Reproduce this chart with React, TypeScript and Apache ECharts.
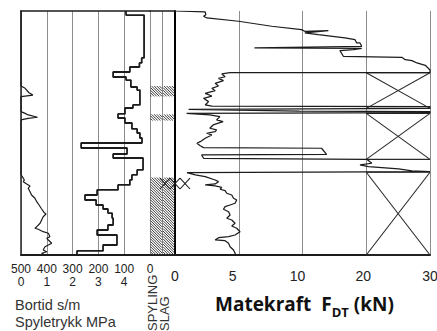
import React, { useEffect, useRef } from "react";
import * as echarts from "echarts";

// ---------- axes / ticks ----------
const DEPTH_MAX = 20; // m (depth axis, unlabeled)
const bortidMax = 500; // s/m
const bortidInterval = 100;
const spyleMax = 5; // MPa
const spyleTickLabels = ["0", "1", "2", "3", "4"];
const forceTicks = [0, 5, 10, 20, 30]; // kN (non-linear axis)

// ---------- Bortid (s/m), step curve: value between consecutive depths ----------
const bortidDepths = [
  0, 0.33, 3.85, 4.26, 4.59, 5.0, 5.41, 5.66, 6.23, 6.48, 7.7, 7.95, 8.44, 8.77,
  9.18, 9.67, 10.0, 10.41, 10.82, 11.23, 11.72, 12.05, 13.03, 13.44, 13.85,
  14.26, 14.67, 15.08, 15.49, 15.9, 16.23, 16.56, 16.97, 17.54, 17.95, 18.36,
  19.18, 19.67, 20,
];
const bortidValues = [
  93, 23, 32, 41, 78, 143, 93, 74, 50, 39, 66, 97, 124, 97, 70, 50, 39, 31, 267,
  89, 143, 27, 50, 70, 78, 124, 205, 252, 209, 182, 163, 147, 143, 163, 205, 128,
  182, 283,
];

// ---------- Spyletrykk (MPa) ----------
const spyleDepths = [
  0, 6.15, 6.34, 6.7, 6.89, 6.97, 7.02, 8.25, 8.39, 8.52, 8.71, 8.8, 8.93, 13.44,
  13.58, 13.85, 13.99, 14.18, 14.34, 14.53, 14.81, 15.08, 15.35, 15.63, 15.9,
  16.17, 16.53, 16.64, 16.86, 17.13, 17.4, 17.68, 17.81, 17.89, 18.09, 18.22,
  18.5, 18.63, 18.77, 19.04, 19.18, 19.32, 19.59, 19.73, 19.86, 20,
];
const spyleValues = [
  0, 0, 0.16, 0.31, 0.46, 0.16, 0, 0, 0.16, 0.28, 0.64, 0.28, 0, 0, 0.05, 0.13,
  0.09, 0.22, 0.35, 0.28, 0.35, 0.41, 0.54, 0.61, 0.7, 0.78, 0.9, 0.97, 0.86, 0.8,
  0.74, 0.61, 0.54, 0.67, 0.86, 1.06, 1.12, 1.0, 1.06, 1.19, 1.06, 0.93, 0.86,
  1.0, 0.8, 0.93,
];

// ---------- Matekraft F_DT (kN) ----------
const forceDepths = [
  0, 0.08, 0.3, 0.43, 0.57, 0.84, 1.25, 1.53, 1.66, 1.61, 1.8, 1.94, 2.21, 2.35,
  2.62, 2.62, 2.89, 3.03, 3.06, 3.17, 3.25, 3.71, 3.8, 3.99, 4.07, 4.26, 4.45,
  4.84, 5.06, 5.06, 5.16, 5.39, 5.52, 5.71, 5.93, 6.15, 6.34, 6.53, 6.75, 6.97,
  7.16, 7.43, 7.7, 7.79, 7.84, 7.99, 8.07, 8.2, 8.24, 8.34, 8.39, 8.52, 8.66,
  8.93, 9.07, 9.34, 9.61, 9.75, 9.89, 10.02, 10.16, 10.43, 10.71, 10.84, 11.04,
  11.2, 11.25, 11.75, 11.8, 12.07, 12.16, 12.48, 12.62, 12.76, 12.95, 13.11,
  13.17, 13.22, 13.24, 13.44, 13.58, 13.85, 13.99, 14.18, 14.26, 14.34, 14.45,
  14.61, 14.73, 14.94, 15.08, 15.35, 15.49, 15.76, 15.9, 16.04, 16.25, 16.45,
  16.72, 16.99, 17.13, 17.4, 17.62, 17.81, 18.09, 18.36, 18.5, 18.58, 18.77,
  18.83, 19.04, 19.32, 19.59, 19.86, 20,
];
const forceValues = [
  0, 2.37, 2.42, 2.24, 2.5, 4.98, 7.58, 9.92, 10.36, 14.05, 10.36, 12.47, 16.66,
  18.24, 18.5, 19.02, 19.29, 6.23, 19.29, 17.98, 15.87, 16.41, 25.59, 26.11,
  27.17, 27.95, 29.26, 30, 30, 4.32, 3.67, 3.93, 3.41, 3.8, 3.15, 3.41, 2.89,
  3.15, 2.37, 2.89, 2.24, 2.63, 2.37, 2.89, 30, 30, 1.07, 9.77, 30, 30, 0.91,
  2.73, 3.52, 3.26, 3.77, 2.99, 2.73, 3.26, 3.15, 2.48, 2.89, 2.37, 1.98, 1.72,
  1.98, 2.24, 12.99, 13.78, 2.09, 2.24, 20.08, 20.87, 19.02, 20.35, 25.07, 27.17,
  30, 30, 0.94, 1.59, 2.37, 3.15, 3.41, 3.15, 2.37, 3.15, 3.67, 3.54, 3.93, 4.06,
  4.45, 4.59, 4.84, 4.71, 4.32, 3.93, 3.8, 4.2, 4.32, 4.06, 4.45, 4.71, 4.45,
  4.84, 5.1, 4.71, 4.2, 3.41, 3.15, 3.93, 4.2, 4.32, 4.59, 4.71, 4.77,
];

// ---------- X-marked boxes (20–30 kN column) ----------
const xBoxTops = [5.06, 8.39, 13.22];
const xBoxBottoms = [7.98, 12.16, 20];

// ---------- hatched intervals (SPYLING / SLAG columns) ----------
const hatchTops = [6.15, 8.47, 13.65];
const hatchBottoms = [7.0, 8.98, 20];

// ---------- small crosses ----------
const crossTops = [13.69];
const crossBottoms = [14.59];
const crossCounts = [3];

function forceToAxis(kN: number): number {
  for (let i = 0; i < forceTicks.length - 1; i++) {
    if (kN <= forceTicks[i + 1]) {
      return i + (kN - forceTicks[i]) / (forceTicks[i + 1] - forceTicks[i]);
    }
  }
  return forceTicks.length - 1;
}

const FONT = '"Liberation Sans", Arial, sans-serif';
const GRID_GRAY = "#8c8c8c";
const INK = "#1c1c1c";
// right-padding (px) per force label, nudging labels slightly left as in the original
const forceLabelPad = [0, 12, 10, 6, 0];

export default function App() {
  const ref = useRef<HTMLDivElement>(null);

  useEffect(() => {
    if (!ref.current) return;
    const chart = echarts.init(ref.current, null, { renderer: "svg" });

    const bortidData: number[][] = [];
    for (let i = 0; i < bortidValues.length; i++) {
      bortidData.push([bortidValues[i], bortidDepths[i]]);
      bortidData.push([bortidValues[i], bortidDepths[i + 1]]);
    }
    const spyleData = spyleValues.map((v, i) => [v, spyleDepths[i]]);
    const forceData = forceValues.map((v, i) => [forceToAxis(v), forceDepths[i]]);
    const xBoxData = xBoxTops.map((t, i) => [t, xBoxBottoms[i]]);
    const hatchData: number[][] = [];
    hatchTops.forEach((t, i) => {
      hatchData.push([0, t, hatchBottoms[i]]);
      hatchData.push([1, t, hatchBottoms[i]]);
    });
    const crossData = crossTops.map((t, i) => [t, crossBottoms[i], crossCounts[i]]);

    const hiddenAxisBits = {
      axisTick: { show: false },
      axisLabel: { show: false },
      splitLine: { show: false },
    };

    const forceRich: any = {};
    forceLabelPad.forEach((p, i) => {
      forceRich["p" + i] = { fontSize: 14, color: "#222", fontFamily: FONT, padding: [0, p, 0, 0] };
    });

    const option: any = {
      animation: false,
      backgroundColor: "#ffffff",
      textStyle: { fontFamily: FONT },
      grid: [
        { left: 21, top: 11, width: 129, height: 244, containLabel: false, outerBoundsMode: "none" },
        { left: 150, top: 11, width: 25, height: 244, containLabel: false, outerBoundsMode: "none" },
        { left: 175, top: 11, width: 255, height: 244, containLabel: false, outerBoundsMode: "none" },
      ],
      xAxis: [
        {
          gridIndex: 0,
          type: "value",
          position: "bottom",
          min: 0,
          max: bortidMax,
          interval: bortidInterval,
          inverse: true,
          axisLine: { show: true, onZero: false, lineStyle: { color: INK, width: 2 } },
          axisTick: { show: false },
          splitLine: { show: false },
          axisLabel: { fontSize: 12, color: "#222", margin: 8, fontFamily: FONT },
        },
        {
          gridIndex: 0,
          type: "value",
          position: "bottom",
          offset: 12.5,
          min: 0,
          max: spyleMax,
          interval: 1,
          axisLine: { show: false, onZero: false },
          axisTick: { show: false },
          splitLine: { show: true, lineStyle: { color: GRID_GRAY, width: 1 } },
          axisLabel: {
            fontSize: 12,
            color: "#222",
            margin: 8,
            fontFamily: FONT,
            formatter: (v: number) => spyleTickLabels[v] ?? "",
          },
        },
        {
          gridIndex: 0,
          type: "value",
          position: "top",
          min: 0,
          max: 1,
          axisLine: { show: true, onZero: false, lineStyle: { color: INK, width: 1.6 } },
          ...hiddenAxisBits,
        },
        {
          gridIndex: 1,
          type: "value",
          position: "bottom",
          min: 0,
          max: 2,
          interval: 1,
          axisLine: { show: true, onZero: false, lineStyle: { color: INK, width: 2 } },
          axisTick: { show: false },
          axisLabel: { show: false },
          splitLine: { show: true, lineStyle: { color: GRID_GRAY, width: 1 } },
        },
        {
          gridIndex: 1,
          type: "value",
          position: "top",
          min: 0,
          max: 2,
          axisLine: { show: true, onZero: false, lineStyle: { color: INK, width: 1.6 } },
          ...hiddenAxisBits,
        },
        {
          gridIndex: 2,
          type: "value",
          position: "bottom",
          min: 0,
          max: forceTicks.length - 1,
          interval: 1,
          axisLine: { show: true, onZero: false, lineStyle: { color: INK, width: 2 } },
          axisTick: { show: false },
          splitLine: { show: true, lineStyle: { color: GRID_GRAY, width: 1 } },
          axisLabel: {
            fontSize: 14,
            color: "#222",
            margin: 14,
            fontFamily: FONT,
            formatter: (v: number) => "{p" + v + "|" + String(forceTicks[v]) + "}",
            rich: forceRich,
          },
        },
      ],
      yAxis: [
        {
          gridIndex: 0,
          type: "value",
          min: 0,
          max: DEPTH_MAX,
          inverse: true,
          axisLine: { show: true, onZero: false, lineStyle: { color: "#333", width: 1.6 } },
          ...hiddenAxisBits,
        },
        {
          gridIndex: 1,
          type: "value",
          min: 0,
          max: DEPTH_MAX,
          inverse: true,
          axisLine: { show: false, onZero: false },
          ...hiddenAxisBits,
        },
        {
          gridIndex: 2,
          type: "value",
          min: 0,
          max: DEPTH_MAX,
          inverse: true,
          axisLine: { show: true, onZero: false, lineStyle: { color: "#000", width: 2 } },
          ...hiddenAxisBits,
        },
      ],
      series: [
        {
          name: "Spyletrykk",
          type: "line",
          xAxisIndex: 1,
          yAxisIndex: 0,
          data: spyleData,
          symbol: "none",
          lineStyle: { color: INK, width: 1.2 },
          z: 5,
        },
        {
          name: "Bortid",
          type: "line",
          xAxisIndex: 0,
          yAxisIndex: 0,
          data: bortidData,
          symbol: "none",
          lineStyle: { color: INK, width: 1.8 },
          z: 5,
        },
        {
          name: "Hatch",
          type: "custom",
          xAxisIndex: 3,
          yAxisIndex: 1,
          data: hatchData,
          renderItem: (_params: any, api: any) => {
            const c = api.value(0);
            const p0 = api.coord([c, api.value(1)]);
            const p1 = api.coord([c + 1, api.value(2)]);
            const x0 = p0[0] + 0.5;
            const x1 = p1[0] - 0.5;
            const y0 = p0[1];
            const y1 = p1[1];
            const children: any[] = [];
            const step = 2.6;
            for (let k = y0 - x1; k <= y1 - x0; k += step) {
              const xa = Math.max(x0, y0 - k);
              const xb = Math.min(x1, y1 - k);
              if (xb > xa) {
                children.push({
                  type: "line",
                  shape: { x1: xa, y1: xa + k, x2: xb, y2: xb + k },
                  style: { stroke: "#3a3a3a", lineWidth: 1 },
                });
              }
            }
            return { type: "group", children };
          },
          z: 3,
        },
        {
          name: "Crosses",
          type: "custom",
          xAxisIndex: 3,
          yAxisIndex: 1,
          clip: false,
          data: crossData,
          renderItem: (_params: any, api: any) => {
            const n = api.value(2);
            const children: any[] = [];
            for (let i = 0; i < n; i++) {
              const a = api.coord([0.8 + i * 0.8, api.value(0)]);
              const b = api.coord([0.8 + (i + 1) * 0.8, api.value(1)]);
              children.push(
                { type: "line", shape: { x1: a[0], y1: a[1], x2: b[0], y2: b[1] }, style: { stroke: INK, lineWidth: 1.1 } },
                { type: "line", shape: { x1: b[0], y1: a[1], x2: a[0], y2: b[1] }, style: { stroke: INK, lineWidth: 1.1 } }
              );
            }
            return { type: "group", children };
          },
          z: 6,
        },
        {
          name: "X boxes",
          type: "custom",
          xAxisIndex: 5,
          yAxisIndex: 2,
          data: xBoxData,
          renderItem: (_params: any, api: any) => {
            const a = api.coord([forceTicks.length - 2, api.value(0)]);
            const b = api.coord([forceTicks.length - 1, api.value(1)]);
            const st = { stroke: "#2a2a2a", lineWidth: 1.1 };
            return {
              type: "group",
              children: [
                { type: "line", shape: { x1: a[0], y1: a[1], x2: b[0], y2: a[1] }, style: st },
                { type: "line", shape: { x1: a[0], y1: b[1], x2: b[0], y2: b[1] }, style: st },
                { type: "line", shape: { x1: a[0], y1: a[1], x2: b[0], y2: b[1] }, style: st },
                { type: "line", shape: { x1: b[0], y1: a[1], x2: a[0], y2: b[1] }, style: st },
              ],
            };
          },
          z: 3,
        },
        {
          name: "Matekraft",
          type: "line",
          xAxisIndex: 5,
          yAxisIndex: 2,
          data: forceData,
          symbol: "none",
          lineStyle: { color: INK, width: 1.25 },
          z: 5,
        },
      ],
      graphic: [
        {
          type: "text",
          x: 15,
          y: 305,
          style: { text: "Bortid s/m", fontSize: 14.5, fontFamily: FONT, fill: "#333", align: "left", verticalAlign: "middle" },
        },
        {
          type: "text",
          x: 15,
          y: 322,
          style: { text: "Spyletrykk MPa", fontSize: 14.5, fontFamily: FONT, fill: "#333", align: "left", verticalAlign: "middle" },
        },
        {
          type: "text",
          x: 152,
          y: 331,
          rotation: Math.PI / 2,
          style: { text: "SPYLING", fontSize: 13, fontFamily: FONT, fill: "#333", align: "left", verticalAlign: "middle" },
        },
        {
          type: "text",
          x: 164,
          y: 331,
          rotation: Math.PI / 2,
          style: { text: "SLAG", fontSize: 13, fontFamily: FONT, fill: "#333", align: "left", verticalAlign: "middle" },
        },
        {
          type: "text",
          x: 215,
          y: 304,
          style: {
            text: "{m|Matekraft  F}{s|DT}{m| (kN)}",
            align: "left",
            verticalAlign: "middle",
            rich: {
              m: { fontSize: 19, fontWeight: "bold", fontFamily: '"Open Sans", sans-serif', fill: "#111", lineHeight: 28 },
              s: { fontSize: 13, fontWeight: "bold", fontFamily: '"Open Sans", sans-serif', fill: "#111", lineHeight: 12, verticalAlign: "bottom" },
            },
          },
        },
      ],
    };

    chart.setOption(option);
    return () => chart.dispose();
  }, []);

  return (
    <div
      ref={ref}
      style={{ position: "fixed", left: 0, top: 0, width: 437, height: 331, background: "#fff" }}
    />
  );
}
